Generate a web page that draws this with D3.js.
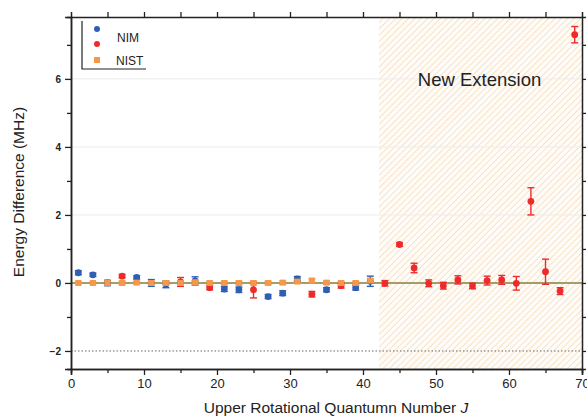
<!DOCTYPE html>
<html>
<head>
<meta charset="utf-8">
<script src="https://cdn.jsdelivr.net/npm/d3@7"></script>
<style>
  body { margin: 0; background: #fff; }
  text { font-family: "Liberation Sans", Arial, sans-serif; }
</style>
</head>
<body>
<script>
  // NIM (blue) points: J, value, error
  const nimBlueJ = [1, 3, 5, 9, 11, 13, 17, 21, 23, 27, 29, 31, 35, 39, 41];
  const nimBlueV = [0.30, 0.24, 0.0, 0.16, 0.0, -0.04, 0.06, -0.18, -0.20, -0.40, -0.30, 0.12, -0.20, -0.14, 0.05];
  const nimBlueE = [0.06, 0.05, 0.08, 0.05, 0.10, 0.10, 0.12, 0.07, 0.08, 0.06, 0.07, 0.07, 0.06, 0.07, 0.15];

  // NIM (red) points
  const nimRedJ = [7, 15, 19, 25, 33, 37, 43, 45, 47, 49, 51, 53, 55, 57, 59, 61, 63, 65, 67, 69];
  const nimRedV = [0.20, 0.03, -0.14, -0.20, -0.33, -0.08, -0.01, 1.13, 0.44, -0.01, -0.08, 0.09, -0.09, 0.07, 0.09, -0.01, 2.40, 0.33, -0.24, 7.30];
  const nimRedE = [0.05, 0.13, 0.06, 0.24, 0.08, 0.07, 0.08, 0.05, 0.14, 0.10, 0.10, 0.12, 0.08, 0.13, 0.13, 0.20, 0.40, 0.37, 0.10, 0.24];

  // NIST reference
  const nistJ = [1, 3, 5, 7, 9, 11, 13, 15, 17, 19, 21, 23, 25, 27, 29, 31, 33, 35, 37, 39, 41];
  const nistV = [0, 0, 0, 0, 0.01, 0, 0, 0, 0.02, 0, 0, 0, 0, 0, 0.01, 0.04, 0.07, 0.01, 0, 0, 0.07];
  const nistE = [0.03, 0.03, 0.05, 0.05, 0.04, 0.04, 0.04, 0.04, 0.05, 0.05, 0.05, 0.05, 0.05, 0.05, 0.05, 0.05, 0.05, 0.05, 0.05, 0.05, 0.05];

  const xTicks = [0, 10, 20, 30, 40, 50, 60, 70];
  const yTicks = [-2, 0, 2, 4, 6];
  const extensionStart = 42.2;

  const width = 587, height = 418;
  const margin = { left: 71, right: 5, top: 17, bottom: 49 };

  const svg = d3.select('body').append('svg')
    .attr('width', width)
    .attr('height', height);

  const x = d3.scaleLinear().domain([0, 70]).range([margin.left, width - margin.right]);
  const y = d3.scaleLinear().domain([-2.53, 7.82]).range([height - margin.bottom, margin.top]);

  // hatch pattern for the "new extension" area
  const pat = svg.append('defs').append('pattern')
    .attr('id', 'hatch')
    .attr('patternUnits', 'userSpaceOnUse')
    .attr('width', 4.5).attr('height', 4.5)
    .attr('patternTransform', 'rotate(45)');
  pat.append('rect').attr('width', 4.5).attr('height', 4.5).attr('fill', '#fffcf8');
  pat.append('line')
    .attr('x1', 0).attr('y1', 0).attr('x2', 0).attr('y2', 4.5)
    .attr('stroke', '#efcfa8').attr('stroke-width', 1.1);

  svg.append('rect')
    .attr('x', x(extensionStart))
    .attr('y', y.range()[1])
    .attr('width', x(70) - x(extensionStart))
    .attr('height', y.range()[0] - y.range()[1])
    .attr('fill', 'url(#hatch)');

  // faint grid lines
  svg.append('g').selectAll('line')
    .data([2, 4, 6])
    .join('line')
    .attr('x1', x(0)).attr('x2', x(70))
    .attr('y1', d => y(d)).attr('y2', d => y(d))
    .attr('stroke', '#ececec').attr('stroke-width', 1);

  // dashed line at -2
  svg.append('line')
    .attr('x1', x(0)).attr('x2', x(70))
    .attr('y1', y(-2)).attr('y2', y(-2))
    .attr('stroke', '#666').attr('stroke-width', 1)
    .attr('stroke-dasharray', '1.5,2');

  // zero line
  svg.append('line')
    .attr('x1', x(0)).attr('x2', x(70))
    .attr('y1', y(0)).attr('y2', y(0))
    .attr('stroke', '#a39d68').attr('stroke-width', 2);

  function series(J, V, E, color, shape) {
    const data = J.map((j, i) => ({ j: j, v: V[i], e: E[i] }));
    const g = svg.append('g');
    const bars = g.selectAll('g.err').data(data).join('g').attr('class', 'err')
      .attr('stroke', color).attr('stroke-width', 1.4);
    bars.append('line')
      .attr('x1', d => x(d.j)).attr('x2', d => x(d.j))
      .attr('y1', d => y(d.v - d.e)).attr('y2', d => y(d.v + d.e));
    bars.append('line')
      .attr('x1', d => x(d.j) - 3.5).attr('x2', d => x(d.j) + 3.5)
      .attr('y1', d => y(d.v - d.e)).attr('y2', d => y(d.v - d.e));
    bars.append('line')
      .attr('x1', d => x(d.j) - 3.5).attr('x2', d => x(d.j) + 3.5)
      .attr('y1', d => y(d.v + d.e)).attr('y2', d => y(d.v + d.e));
    if (shape === 'square') {
      g.selectAll('rect').data(data).join('rect')
        .attr('x', d => x(d.j) - 3).attr('y', d => y(d.v) - 3)
        .attr('width', 6).attr('height', 6)
        .attr('fill', color);
    } else {
      g.selectAll('circle').data(data).join('circle')
        .attr('cx', d => x(d.j)).attr('cy', d => y(d.v))
        .attr('r', 3.4)
        .attr('fill', color);
    }
  }

  series(nimBlueJ, nimBlueV, nimBlueE, '#2f5fb3', 'circle');
  series(nimRedJ, nimRedV, nimRedE, '#ee2b2b', 'circle');
  series(nistJ, nistV, nistE, '#f6974a', 'square');

  // axes (frame with outward ticks)
  const axisG = svg.append('g');
  const bottom = axisG.append('g')
    .attr('transform', `translate(0,${y.range()[0]})`)
    .call(d3.axisBottom(x).tickValues(xTicks).tickSize(6).tickPadding(4));
  bottom.selectAll('text').attr('font-size', 13).attr('fill', '#222');
  axisG.append('g')
    .attr('transform', `translate(0,${y.range()[0]})`)
    .call(d3.axisBottom(x).tickValues(d3.range(5, 70, 10)).tickSize(4).tickFormat(''));
  axisG.append('g')
    .attr('transform', `translate(0,${y.range()[1]})`)
    .call(d3.axisTop(x).tickValues(d3.range(5, 70, 5)).tickSize(5).tickFormat(''));

  const left = axisG.append('g')
    .attr('transform', `translate(${x.range()[0]},0)`)
    .call(d3.axisLeft(y).tickValues(yTicks).tickSize(6).tickPadding(4));
  left.selectAll('text').attr('font-size', 10).attr('font-weight', 'bold').attr('fill', '#222');
  axisG.append('g')
    .attr('transform', `translate(${x.range()[0]},0)`)
    .call(d3.axisLeft(y).tickValues([-1, 1, 3, 5, 7]).tickSize(4).tickFormat(''));
  axisG.append('g')
    .attr('transform', `translate(${x.range()[1]},0)`)
    .call(d3.axisRight(y).tickValues([-2, -1, 0, 1, 2, 3, 4, 5, 6, 7]).tickSize(4).tickFormat(''));

  axisG.selectAll('.domain').attr('stroke', '#222').attr('stroke-width', 1.5);
  axisG.selectAll('.tick line').attr('stroke', '#222').attr('stroke-width', 1.3);

  // labels
  svg.append('text')
    .attr('x', 336).attr('y', 413)
    .attr('text-anchor', 'middle').attr('font-size', 15.5).attr('fill', '#222')
    .text('Upper Rotational Quantumn Number ')
    .append('tspan').attr('font-style', 'italic').text('J');

  svg.append('text')
    .attr('transform', 'translate(24,192) rotate(-90)')
    .attr('text-anchor', 'middle').attr('font-size', 15.5).attr('fill', '#222')
    .text('Energy Difference (MHz)');

  svg.append('text')
    .attr('x', (x(extensionStart) + x(70)) / 2 - 1)
    .attr('y', 86)
    .attr('text-anchor', 'middle').attr('font-size', 18.5).attr('fill', '#222')
    .text('New Extension');

  // legend
  const leg = svg.append('g');
  leg.append('path')
    .attr('d', 'M82,21 V69 H146')
    .attr('fill', 'none').attr('stroke', '#222').attr('stroke-width', 1.2);
  leg.append('circle').attr('cx', 97).attr('cy', 29).attr('r', 3).attr('fill', '#2f5fb3');
  leg.append('circle').attr('cx', 97).attr('cy', 44).attr('r', 3).attr('fill', '#ee2b2b');
  leg.append('rect').attr('x', 94).attr('y', 57).attr('width', 6).attr('height', 6).attr('fill', '#f6974a');
  leg.append('text').attr('x', 117).attr('y', 42).attr('font-size', 12).attr('fill', '#222').text('NIM');
  leg.append('text').attr('x', 116).attr('y', 65).attr('font-size', 12).attr('fill', '#222').text('NIST');
</script>
</body>
</html>
